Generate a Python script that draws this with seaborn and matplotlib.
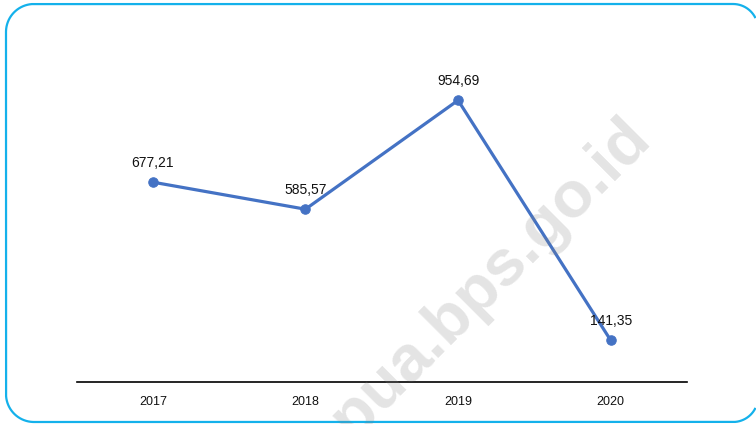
import matplotlib
matplotlib.use("Agg")
import matplotlib.pyplot as plt
from matplotlib.lines import Line2D
from matplotlib.transforms import IdentityTransform
import numpy as np
import seaborn as sns
import pandas as pd

years = ["2017", "2018", "2019", "2020"]
values = [677.21, 585.57, 954.69, 141.35]
value_labels = ["677,21", "585,57", "954,69", "141,35"]

sns.set_theme(style="white")
plt.rcParams["font.family"] = ["Liberation Sans", "DejaVu Sans"]

df = pd.DataFrame({"year": years, "value": values})

W, H = 756, 424
fig = plt.figure(figsize=(W / 100, H / 100), dpi=100)
fig.patch.set_facecolor("white")
ax = fig.add_axes([76.5 / W, 42 / H, 610.5 / W, 324.6 / H])

line_color = "#4472C4"
sns.lineplot(data=df, x="year", y="value", ax=ax, color=line_color,
             linewidth=2.3, marker="o", markersize=6.8,
             markeredgecolor=line_color, markerfacecolor=line_color,
             sort=False)

for i, (v, lab) in enumerate(zip(values, value_labels)):
    ax.annotate(lab, (i, v), xytext=(0, 9), textcoords="offset points",
                ha="center", va="bottom", fontsize=10, color="#111111")

ax.set_xlim(-0.5, 3.5)
ax.set_ylim(0, 1100)
ax.set_yticks([])
ax.set_xlabel("")
ax.set_ylabel("")
for side in ["top", "left", "right"]:
    ax.spines[side].set_visible(False)
ax.spines["bottom"].set_color("black")
ax.spines["bottom"].set_linewidth(1.2)
ax.tick_params(axis="x", length=0, pad=10, labelsize=9, labelcolor="#111111")
ax.set_facecolor("none")


# rounded frame, running off the right-hand edge of the canvas
def arc(cx, cy, r, a0, a1, n=40):
    t = np.radians(np.linspace(a0, a1, n))
    return cx + r * np.cos(t), cy + r * np.sin(t)


left, right, top, bottom = 6.0, 758.0, H - 4.0, H - 422.0
rl, rr = 28.0, 25.0
xs, ys = [], []
ang_edge = np.degrees(np.arcsin((W - 0.5 - (right - rr)) / rr))
x, y = arc(right - rr, top - rr, rr, 90 - ang_edge, 90)
xs += list(x); ys += list(y)
x, y = arc(left + rl, top - rl, rl, 90, 180)
xs += list(x); ys += list(y)
x, y = arc(left + rl, bottom + rl, rl, 180, 270)
xs += list(x); ys += list(y)
x, y = arc(right - rr, bottom + rr, rr, 270, 270 + ang_edge)
xs += list(x); ys += list(y)
frame = Line2D(xs, ys, transform=IdentityTransform(), color="#14B1EB",
               linewidth=1.6, solid_capstyle="butt", zorder=10)
fig.lines.append(frame)

# site watermark
fig.text(476, 108, "papua.bps.go.id", transform=IdentityTransform(),
         rotation=45, rotation_mode="anchor", ha="center", va="baseline",
         fontsize=47, fontweight="bold", color="#808080", alpha=0.21,
         zorder=20)

fig.savefig("out.png", dpi=100)
